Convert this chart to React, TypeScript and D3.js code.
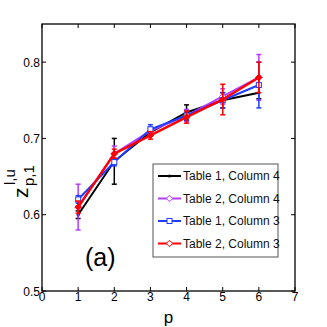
import React from "react";
import * as d3 from "d3";

const pValues = [1, 2, 3, 4, 5, 6];
const xTicks = [0, 1, 2, 3, 4, 5, 6, 7];
const yTicks = [0.5, 0.6, 0.7, 0.8];

const seriesNames = ["Table 1, Column 4", "Table 2, Column 4", "Table 1, Column 3", "Table 2, Column 3"];
const seriesColors = ["#000000", "#b23cff", "#1f3dff", "#ff0000"];
const seriesMarkers = ["dot", "diamond", "square", "diamond"];

const t1c4Values = [0.6, 0.67, 0.708, 0.734, 0.75, 0.76];
const t1c4Errors = [0.005, 0.03, 0.005, 0.01, 0.01, 0.008];
const t2c4Values = [0.61, 0.68, 0.71, 0.73, 0.755, 0.78];
const t2c4Errors = [0.03, 0.01, 0.005, 0.008, 0.01, 0.03];
const t1c3Values = [0.62, 0.669, 0.712, 0.73, 0.75, 0.77];
const t1c3Errors = [0.005, 0.005, 0.006, 0.006, 0.01, 0.03];
const t2c3Values = [0.61, 0.68, 0.704, 0.728, 0.751, 0.78];
const t2c3Errors = [0.008, 0.006, 0.005, 0.008, 0.02, 0.02];

const allValues = [t1c4Values, t2c4Values, t1c3Values, t2c3Values];
const allErrors = [t1c4Errors, t2c4Errors, t1c3Errors, t2c3Errors];

const W = 327;
const H = 327;
const margin = { top: 24, right: 32, bottom: 36, left: 42 };
const font = "'Liberation Sans', Arial, sans-serif";

function Marker({ kind, x, y, color, filled }: { kind: string; x: number; y: number; color: string; filled: boolean }) {
  const fill = filled ? color : "white";
  if (kind === "square") {
    return <rect x={x - 2.5} y={y - 2.5} width={5} height={5} fill={fill} stroke={color} strokeWidth={1} />;
  }
  if (kind === "diamond") {
    return <path d={`M${x},${y - 3.2}L${x + 3.2},${y}L${x},${y + 3.2}L${x - 3.2},${y}Z`} fill={fill} stroke={color} strokeWidth={1} />;
  }
  return <circle cx={x} cy={y} r={1.6} fill={color} />;
}

export default function App() {
  const innerW = W - margin.left - margin.right;
  const innerH = H - margin.top - margin.bottom;
  const x = d3.scaleLinear().domain([0, 7]).range([margin.left, margin.left + innerW]);
  const y = d3.scaleLinear().domain([0.5, 0.85]).range([margin.top + innerH, margin.top]);

  const line = d3
    .line<number>()
    .x((_, i) => x(pValues[i]))
    .y((d) => y(d));

  const left = x(0);
  const right = x(7);
  const top = y(0.85);
  const bottom = y(0.5);
  const tick = 4;

  const legend = { x: 153, y: 164, w: 125, h: 93 };
  const rowY = [176, 198.5, 221, 243.5];

  return (
    <svg width={W} height={H} style={{ position: "absolute", left: 0, top: 0, background: "white" }}>
      <rect x={0} y={0} width={W} height={H} fill="white" />

      {/* series */}
      {allValues.map((vals, s) => (
        <g key={s}>
          <path d={line(vals) || ""} fill="none" stroke={seriesColors[s]} strokeWidth={s === 3 ? 2.4 : 2} />
          {vals.map((v, i) => {
            const cx = x(pValues[i]);
            const e = allErrors[s][i];
            const y1 = y(v - e);
            const y2 = y(v + e);
            return (
              <g key={i} stroke={seriesColors[s]} strokeWidth={1.5}>
                <line x1={cx} x2={cx} y1={y1} y2={y2} />
                <line x1={cx - 2.5} x2={cx + 2.5} y1={y1} y2={y1} />
                <line x1={cx - 2.5} x2={cx + 2.5} y1={y2} y2={y2} />
              </g>
            );
          })}
          {vals.map((v, i) => (
            <Marker key={"m" + i} kind={seriesMarkers[s]} x={x(pValues[i])} y={y(v)} color={seriesColors[s]} filled={s === 3} />
          ))}
        </g>
      ))}

      {/* axes box */}
      <rect x={left} y={top} width={right - left} height={bottom - top} fill="none" stroke="black" strokeWidth={1.3} />
      {xTicks.map((t) => (
        <g key={"x" + t}>
          <line x1={x(t)} x2={x(t)} y1={bottom} y2={bottom - tick} stroke="black" />
          <line x1={x(t)} x2={x(t)} y1={top} y2={top + tick} stroke="black" />
          <text x={x(t)} y={301} textAnchor="middle" fontFamily={font} fontSize={12}>
            {t}
          </text>
        </g>
      ))}
      {yTicks.map((t) => (
        <g key={"y" + t}>
          <line x1={left} x2={left + tick} y1={y(t)} y2={y(t)} stroke="black" />
          <line x1={right} x2={right - tick} y1={y(t)} y2={y(t)} stroke="black" />
          <text x={left - 2} y={y(t) + 4.5} textAnchor="end" fontFamily={font} fontSize={12}>
            {t.toFixed(1)}
          </text>
        </g>
      ))}

      {/* axis labels */}
      <text x={(left + right) / 2} y={323} textAnchor="middle" fontFamily={font} fontSize={17}>
        p
      </text>
      <g transform="translate(28,198) rotate(-90)" fontFamily={font}>
        <text x={0} y={0} fontSize={21}>z</text>
        <text x={13} y={-13} fontSize={15}>l,u</text>
        <text x={12} y={6} fontSize={15}>p,1</text>
      </g>

      <text x={85} y={266} fontFamily={font} fontSize={25}>
        (a)
      </text>

      {/* legend */}
      <rect x={legend.x} y={legend.y} width={legend.w} height={legend.h} fill="white" stroke="#555" strokeWidth={1} />
      {seriesNames.map((name, s) => (
        <g key={name}>
          <line x1={158} x2={181} y1={rowY[s]} y2={rowY[s]} stroke={seriesColors[s]} strokeWidth={2} />
          <Marker kind={seriesMarkers[s]} x={169.5} y={rowY[s]} color={seriesColors[s]} filled={false} />
          <text x={183} y={rowY[s] + 4.3} fontFamily={font} fontSize={12} fill="#111">
            {name}
          </text>
        </g>
      ))}
    </svg>
  );
}
